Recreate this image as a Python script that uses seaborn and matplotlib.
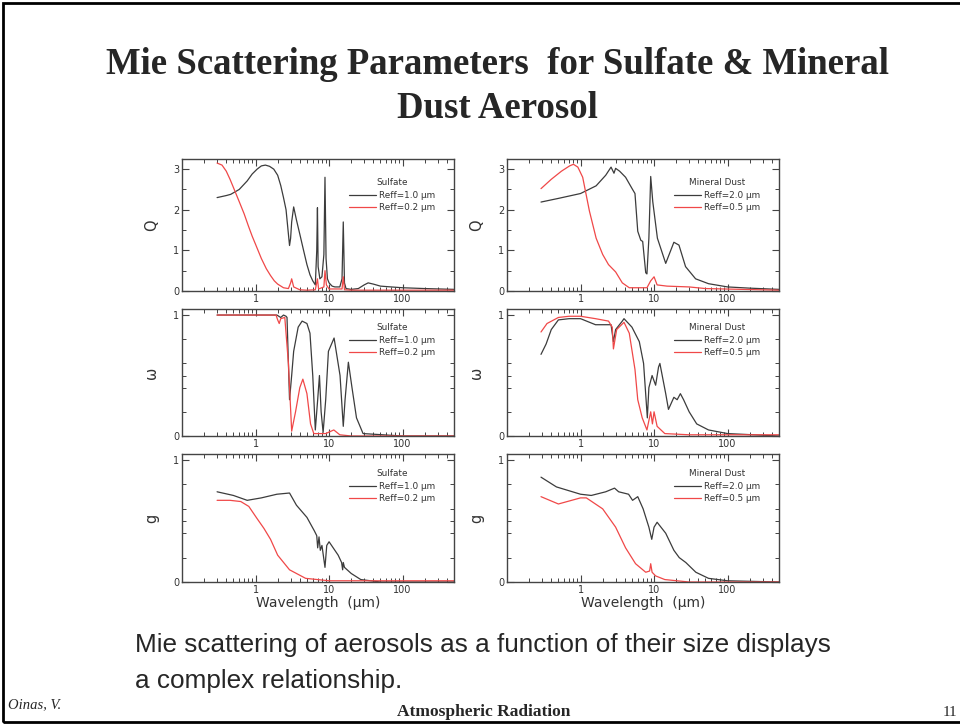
import matplotlib
matplotlib.use("Agg")
import matplotlib.pyplot as plt
import matplotlib.ticker as mticker
from matplotlib.patches import Rectangle
import seaborn as sns

# ---- data ----
# Sulfate, extinction efficiency Q
sul_q_wl_big = [0.3, 0.4, 0.46, 0.6, 0.77, 0.9, 1.05, 1.2, 1.36, 1.55, 1.77, 2.0, 2.2, 2.4, 2.6, 2.8, 2.9, 3.0,
                3.1, 3.3, 3.6, 4.0, 4.5, 5.0, 5.5, 6.0, 6.5, 6.8, 6.95, 7.1, 7.5, 8.0, 8.5, 8.8, 9.1, 9.5, 10,
                11, 12, 14, 15, 15.6, 16.2, 17, 20, 25, 30, 34, 40, 50, 70, 100, 200, 500]
sul_q_big = [2.3, 2.35, 2.38, 2.5, 2.71, 2.88, 3.0, 3.08, 3.1, 3.07, 3.0, 2.85, 2.6, 2.3, 2.0, 1.4, 1.12, 1.3,
             1.7, 2.07, 1.75, 1.4, 1.0, 0.65, 0.4, 0.25, 0.15, 1.0, 2.05, 0.6, 0.3, 0.35, 0.9, 2.8, 0.8, 0.3, 0.2,
             0.12, 0.1, 0.1, 0.3, 1.7, 0.2, 0.06, 0.04, 0.06, 0.15, 0.2, 0.17, 0.12, 0.1, 0.08, 0.06, 0.04]
sul_q_wl_small = [0.3, 0.35, 0.4, 0.45, 0.5, 0.6, 0.7, 0.8, 0.9, 1.0, 1.2, 1.4, 1.6, 1.8, 2.0, 2.4, 2.8, 3.0,
                  3.1, 3.3, 4.0, 5.0, 6.5, 6.95, 7.2, 8.5, 8.8, 9.2, 10, 15, 15.6, 16.2, 20, 500]
sul_q_small = [3.15, 3.1, 2.95, 2.75, 2.55, 2.2, 1.9, 1.6, 1.35, 1.15, 0.8, 0.55, 0.38, 0.25, 0.17, 0.08, 0.06, 0.2,
               0.3, 0.1, 0.03, 0.02, 0.03, 0.3, 0.05, 0.1, 0.5, 0.15, 0.05, 0.05, 0.35, 0.03, 0.02, 0.02]

# Mineral dust, Q
dust_q_wl_big = [0.29, 0.5, 1.0, 1.63, 2.2, 2.6, 2.85, 3.0, 3.4, 4.1, 5.1, 5.5, 6.0, 6.6, 7.0, 7.7, 8.0, 8.5,
                 9.0, 9.6, 11.1, 14.4, 18.6, 21.8, 26.8, 36.7, 55, 100, 200, 500]
dust_q_big = [2.19, 2.28, 2.4, 2.59, 2.85, 3.05, 2.9, 3.02, 2.95, 2.8, 2.5, 2.4, 1.47, 1.25, 1.22, 0.45, 0.42, 1.3,
              2.82, 2.2, 1.3, 0.68, 1.2, 1.13, 0.6, 0.3, 0.18, 0.1, 0.07, 0.04]
dust_q_wl_small = [0.29, 0.4, 0.55, 0.71, 0.8, 0.92, 1.07, 1.32, 1.63, 2.0, 2.4, 3.0, 3.7, 4.6, 6.0, 8.0, 9.0,
                   10.0, 11.0, 15, 30, 50, 500]
dust_q_small = [2.52, 2.75, 2.95, 3.08, 3.12, 3.05, 2.8, 1.97, 1.3, 0.9, 0.65, 0.47, 0.2, 0.08, 0.08, 0.08, 0.25,
                0.35, 0.15, 0.12, 0.1, 0.06, 0.02]

# Sulfate, single scattering albedo
sul_w_wl_big = [0.3, 1.0, 1.95, 2.2, 2.4, 2.6, 2.68, 2.9, 3.1, 3.3, 3.8, 4.3, 5.0, 5.5, 6.0, 6.5, 7.0, 7.4, 7.8,
                8.3, 9.0, 9.8, 11.7, 14.1, 15.6, 16.5, 18.3, 20.5, 23.6, 29, 100, 500]
sul_w_big = [1.0, 1.0, 1.0, 0.98, 1.0, 0.99, 0.98, 0.3, 0.5, 0.7, 0.9, 0.95, 0.93, 0.85, 0.5, 0.05, 0.3, 0.5, 0.2,
             0.03, 0.3, 0.7, 0.81, 0.5, 0.08, 0.3, 0.61, 0.4, 0.15, 0.02, 0.0, 0.0]
sul_w_wl_small = [0.3, 1.9, 2.0, 2.1, 2.2, 2.5, 2.8, 3.1, 3.5, 4.0, 4.4, 5.0, 5.6, 6.2, 9, 11.6, 14, 20, 500]
sul_w_small = [1.0, 1.0, 0.96, 0.93, 0.97, 0.98, 0.6, 0.04, 0.2, 0.4, 0.47, 0.35, 0.1, 0.02, 0.02, 0.05, 0.01,
               0.0, 0.0]

# Mineral dust, single scattering albedo
dust_w_wl_big = [0.29, 0.34, 0.4, 0.5, 0.7, 1.0, 1.6, 2.6, 2.8, 3.0, 3.7, 3.9, 5.0, 6.3, 7.2, 8.1, 8.5, 9.4,
                 10.5, 11.5, 12.0, 14.4, 15.7, 18.6, 20.6, 22.8, 25.2, 30, 38, 55, 100, 500]
dust_w_big = [0.675, 0.76, 0.88, 0.96, 0.97, 0.97, 0.92, 0.92, 0.78, 0.88, 0.95, 0.97, 0.9, 0.78, 0.6, 0.15, 0.4,
              0.5, 0.42, 0.57, 0.6, 0.35, 0.22, 0.32, 0.3, 0.35, 0.3, 0.2, 0.1, 0.05, 0.02, 0.0]
dust_w_wl_small = [0.29, 0.35, 0.5, 0.7, 1.0, 1.6, 2.4, 2.7, 2.8, 3.1, 3.9, 4.6, 5.5, 6.0, 6.9, 8.0, 9.0, 9.5,
                   10.0, 11.0, 14, 30, 500]
dust_w_small = [0.86, 0.93, 0.98, 0.99, 0.99, 0.97, 0.95, 0.9, 0.72, 0.88, 0.94, 0.85, 0.55, 0.3, 0.15, 0.05, 0.2,
                0.1, 0.2, 0.08, 0.02, 0.01, 0.01]

# Sulfate, asymmetry parameter
sul_g_wl_big = [0.3, 0.5, 0.77, 1.2, 1.95, 2.9, 3.6, 5.0, 6.3, 6.8, 7.0, 7.3, 7.6, 8.0, 8.8, 9.3, 10, 13.3, 14.8,
                15.3, 15.6, 16.2, 20, 27, 50, 500]
sul_g_big = [0.74, 0.71, 0.67, 0.69, 0.72, 0.73, 0.63, 0.53, 0.42, 0.38, 0.28, 0.37, 0.26, 0.3, 0.12, 0.3, 0.33,
             0.22, 0.16, 0.1, 0.16, 0.12, 0.07, 0.02, 0.0, 0.0]
sul_g_wl_small = [0.3, 0.45, 0.63, 0.81, 1.05, 1.3, 1.6, 2.0, 2.9, 4.8, 10, 500]
sul_g_small = [0.67, 0.67, 0.66, 0.62, 0.52, 0.44, 0.35, 0.22, 0.1, 0.03, 0.01, 0.01]

# Mineral dust, asymmetry parameter
dust_g_wl_big = [0.29, 0.47, 1.0, 1.4, 2.2, 2.9, 3.3, 4.5, 5.1, 6.0, 7.1, 8.5, 9.3, 10, 11, 14.4, 18.6, 22, 27,
                 37, 55, 100, 500]
dust_g_big = [0.86, 0.78, 0.72, 0.71, 0.74, 0.77, 0.74, 0.72, 0.67, 0.7, 0.6, 0.45, 0.35, 0.45, 0.49, 0.4, 0.26,
              0.2, 0.16, 0.08, 0.03, 0.01, 0.0]
dust_g_wl_small = [0.29, 0.5, 1.0, 1.2, 2.0, 3.0, 4.1, 5.6, 7.7, 8.7, 9.0, 9.4, 10.5, 14, 30, 500]
dust_g_small = [0.7, 0.64, 0.69, 0.69, 0.6, 0.45, 0.28, 0.15, 0.08, 0.09, 0.15, 0.08, 0.05, 0.02, 0.0, 0.0]

titles = ["Sulfate", "Mineral Dust"]
labels_big = ["Reff=1.0 \u03bcm", "Reff=2.0 \u03bcm"]
labels_small = ["Reff=0.2 \u03bcm", "Reff=0.5 \u03bcm"]
ylabels = ["Q", "\u03c9", "g"]

series = [
    [(sul_q_wl_big, sul_q_big, sul_q_wl_small, sul_q_small),
     (dust_q_wl_big, dust_q_big, dust_q_wl_small, dust_q_small)],
    [(sul_w_wl_big, sul_w_big, sul_w_wl_small, sul_w_small),
     (dust_w_wl_big, dust_w_big, dust_w_wl_small, dust_w_small)],
    [(sul_g_wl_big, sul_g_big, sul_g_wl_small, sul_g_small),
     (dust_g_wl_big, dust_g_big, dust_g_wl_small, dust_g_small)],
]

sns.set_style("ticks")
plt.rcParams["font.family"] = ["DejaVu Sans"]

W, H = 960, 725
fig = plt.figure(figsize=(W / 100, H / 100), dpi=100)

col_x = [182, 507]
col_w = 272
row_y = [(159, 291), (309, 436), (454, 582)]
ytops = [3.25, 1.05, 1.05]
leg_top = [178, 323, 469]

dark = "#3c3c3c"
red = "#f04848"

for r in range(3):
    for c in range(2):
        y0, y1 = row_y[r]
        ax = fig.add_axes([col_x[c] / W, 1 - y1 / H, col_w / W, (y1 - y0) / H])
        xb, yb, xs, ys = series[r][c]
        sns.lineplot(x=xb, y=yb, ax=ax, color=dark, lw=0.9, label=labels_big[c], sort=False)
        sns.lineplot(x=xs, y=ys, ax=ax, color=red, lw=0.9, label=labels_small[c], sort=False)
        ax.set_xscale("log")
        ax.set_xlim(0.1, 500)
        ax.set_ylim(0, ytops[r])
        ax.xaxis.set_major_locator(mticker.FixedLocator([1, 10, 100]))
        ax.xaxis.set_major_formatter(mticker.FixedFormatter(["1", "10", "100"]))
        ax.xaxis.set_minor_locator(mticker.LogLocator(base=10, subs=range(2, 10)))
        ax.xaxis.set_minor_formatter(mticker.NullFormatter())
        if r == 0:
            ax.yaxis.set_major_locator(mticker.FixedLocator([0, 1, 2, 3]))
            ax.yaxis.set_minor_locator(mticker.MultipleLocator(0.5))
        else:
            ax.yaxis.set_major_locator(mticker.FixedLocator([0, 1]))
            ax.yaxis.set_minor_locator(mticker.FixedLocator([0.2, 0.4, 0.5, 0.6, 0.8]))
        ax.tick_params(which="both", direction="in", top=True, right=True, colors="#444444",
                       labelcolor="#333333")
        ax.tick_params(which="major", length=5, width=0.8, labelsize=7, pad=2)
        ax.tick_params(which="minor", length=3, width=0.7)
        for s in ax.spines.values():
            s.set_color("#444444")
            s.set_linewidth(1.0)
        ax.set_ylabel(ylabels[r], fontsize=10.5, color="#333333", rotation=90, labelpad=10)
        if r == 2:
            ax.set_xlabel("Wavelength  (\u03bcm)", fontsize=10, color="#333333", labelpad=1)
        else:
            ax.set_xlabel("")
        right_px = col_x[c] + col_w - 19
        leg = ax.legend(title=titles[c], frameon=False, fontsize=6.4, title_fontsize=6.4,
                        loc="upper right", bbox_to_anchor=(right_px / W, 1 - leg_top[r] / H),
                        bbox_transform=fig.transFigure, handlelength=3.0,
                        handletextpad=0.3, labelspacing=0.42, borderaxespad=0, borderpad=0)
        for t in leg.get_texts():
            t.set_color("#333333")
        leg.get_title().set_color("#333333")

# slide texts
fig.text(497 / W, 1 - 64 / H, "Mie Scattering Parameters  for Sulfate & Mineral", ha="center", va="center",
         fontsize=26.5, fontweight="bold", family="Liberation Serif")
fig.text(497 / W, 1 - 108 / H, "Dust Aerosol", ha="center", va="center",
         fontsize=26.5, fontweight="bold", family="Liberation Serif")
fig.text(135 / W, 1 - 645 / H, "Mie scattering of aerosols as a function of their size displays",
         ha="left", va="center", fontsize=18.8, family="Liberation Sans")
fig.text(135 / W, 1 - 681 / H, "a complex relationship.",
         ha="left", va="center", fontsize=18.8, family="Liberation Sans")
fig.text(8 / W, 1 - 705 / H, "Oinas, V.", ha="left", va="center", fontsize=10.5, style="italic",
         family="Liberation Serif")
fig.text(484 / W, 1 - 712 / H, "Atmospheric Radiation", ha="center", va="center", fontsize=12.5,
         fontweight="bold", family="Liberation Serif")
fig.text(950 / W, 1 - 712 / H, "11", ha="center", va="center", fontsize=11, family="Liberation Serif")

# slide frame (right edge runs off the picture)
fig.patches.append(Rectangle((2.5 / W, 3 / H), 970 / W, 719 / H, transform=fig.transFigure,
                             fill=False, edgecolor="black", lw=2))

fig.savefig("out.png", dpi=100)
